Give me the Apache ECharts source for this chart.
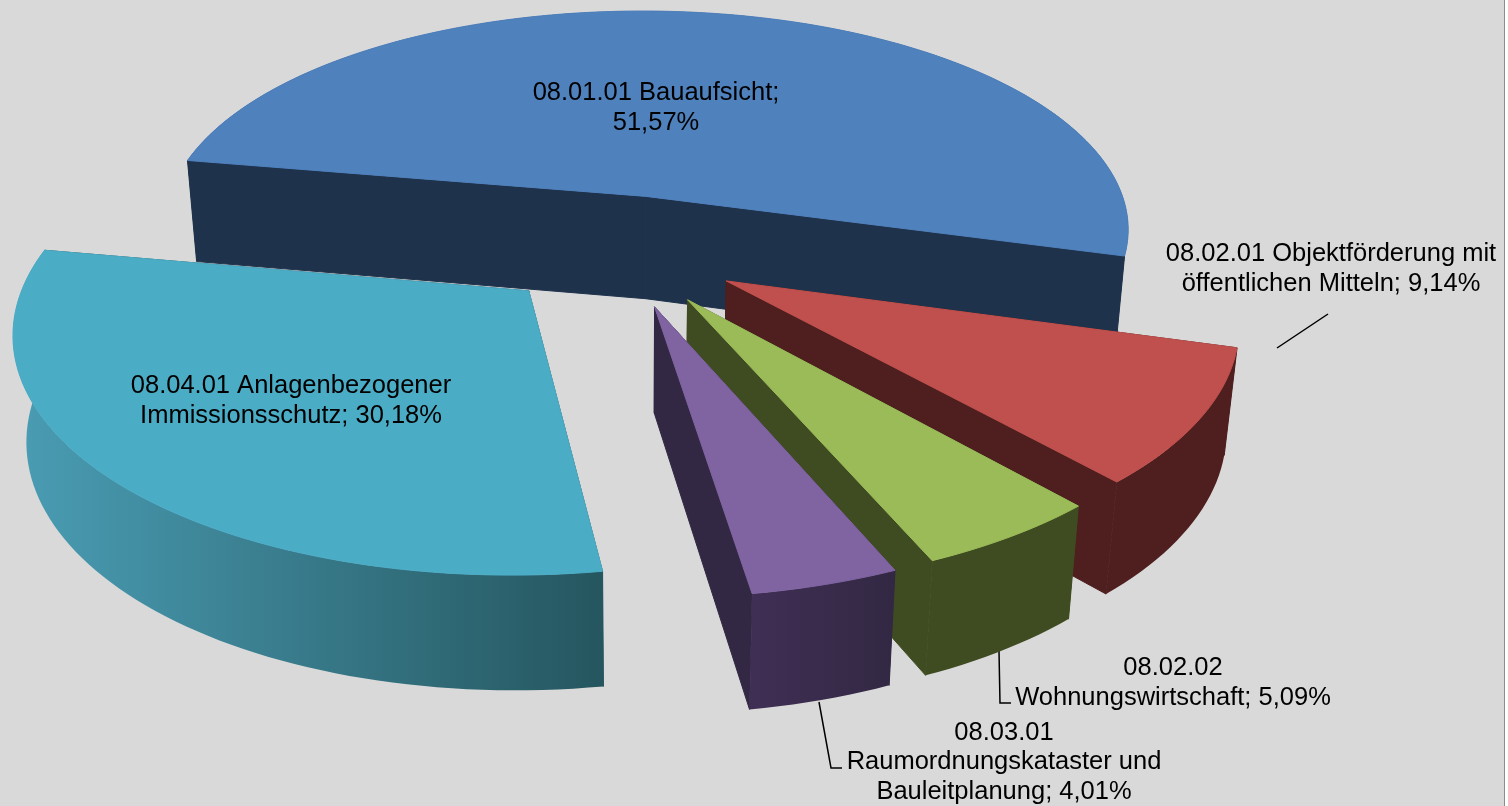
<!DOCTYPE html>
<html>
<head>
    <meta charset="utf-8">
    <title>Anteile</title>
    <style>
        html,body{margin:0;padding:0;background:#fff;}
        #chart{width:1504px;height:806px;border-right:1px solid #8c8c8c;}
    </style>
    <script src="https://cdn.jsdelivr.net/npm/echarts@6/dist/echarts.min.js"></script>
</head>
<body>
<div id="chart"></div>
<script>
    // Werte
    var sliceNames = [
        '08.01.01 Bauaufsicht',
        '08.02.01 Objektförderung mit\nöffentlichen Mitteln',
        '08.02.02\nWohnungswirtschaft',
        '08.03.01\nRaumordnungskataster und\nBauleitplanung',
        '08.04.01 Anlagenbezogener\nImmissionsschutz'
    ];
    var sliceShares = [51.57, 9.14, 5.09, 4.01, 30.18];
    var labelBreaks = ['\n', ' ', ' ', ' ', ' '];

    // Farben
    var topColors = ['#4f81bd', '#c0504d', '#9bbb59', '#8064a2', '#4bacc6'];
    var sideColors = [
        ['#1e324c', '#1e324c'],
        ['#4e1f1e', '#4e1f1e'],
        ['#3f4b20', '#3f4b20'],
        ['#402f55', '#322843'],
        ['#4a9db4', '#25565f']
    ];

    // Projektion der Kreisfläche (Perspektive)
    var view = {cx: 619.5, cy: 250, a: 494, b: 228, p: 0.15, explode: 0.25, startDeg: 280};
    var labelPos = [[656, 108], [1331, 269], [1173, 683], [1004, 762], [291, 401]];
    var totalShare = sliceShares.reduce(function (s, v) { return s + v; }, 0);

    function project(u, v) {
        var w = 1 - view.p * v;
        return [view.cx + view.a * u / w, view.cy + view.b * v / w];
    }
    // Unterkante: Tiefe wächst nach vorn, Kanten laufen nach unten zusammen
    function lower(pt) {
        var d = 101 + (pt[1] - 157) * 0.034;
        return [pt[0] + (640 - pt[0]) * d / 5000, pt[1] + d];
    }

    function renderSlice(params, api) {
        var i = params.dataIndex;
        var before = 0;
        for (var k = 0; k < i; k++) before += sliceShares[k];
        var a0 = view.startDeg + before / totalShare * 360;
        var sweep = api.value(0) / totalShare * 360;
        var mid = (a0 + sweep / 2) * Math.PI / 180;
        var ou = view.explode * Math.sin(mid), ov = -view.explode * Math.cos(mid);

        var rim = [];
        var steps = Math.ceil(sweep / 1.5);
        for (var s = 0; s <= steps; s++) {
            var t = (a0 + sweep * s / steps) * Math.PI / 180;
            rim.push(project(ou + Math.sin(t), ov - Math.cos(t)));
        }
        var apex = project(ou, ov);
        var rimLow = rim.map(lower).reverse();
        var dark = sideColors[i][1];
        var children = [
            {type: 'polygon', shape: {points: [apex, rim[0], lower(rim[0]), lower(apex)]}, style: {fill: dark, stroke: dark, lineWidth: 1}},
            {type: 'polygon', shape: {points: [apex, rim[steps], lower(rim[steps]), lower(apex)]}, style: {fill: dark, stroke: dark, lineWidth: 1}},
            {
                type: 'polygon', shape: {points: rim.concat(rimLow)},
                style: {fill: new echarts.graphic.LinearGradient(0, 0, 1, 0, [
                    {offset: 0, color: sideColors[i][0]},
                    {offset: 1, color: sideColors[i][1]}
                ])}
            },
            {type: 'polygon', shape: {points: [apex].concat(rim)}, style: {fill: topColors[i], stroke: topColors[i], lineWidth: 1}},
            {
                type: 'text',
                style: {
                    x: labelPos[i][0], y: labelPos[i][1],
                    text: sliceNames[i] + ';' + labelBreaks[i] + api.value(0).toFixed(2).replace('.', ',') + '%',
                    fill: '#000', align: 'center', verticalAlign: 'middle',
                    font: '25.5px "Liberation Sans", Arial, sans-serif', lineHeight: 29.5
                }
            }
        ];
        return {type: 'group', children: children};
    }

    var myChart = echarts.init(document.getElementById('chart'));
    myChart.setOption({
        backgroundColor: '#d9d9d9',
        animation: false,
        series: [{
            type: 'custom',
            coordinateSystem: 'none',
            renderItem: renderSlice,
            data: sliceShares.map(function (v) { return [v]; })
        }],
        graphic: [
            {type: 'polyline', shape: {points: [[1328, 314], [1277, 348]]}, style: {stroke: '#000', lineWidth: 1.5, fill: null}},
            {type: 'polyline', shape: {points: [[999, 651], [1000, 703], [1011, 703]]}, style: {stroke: '#000', lineWidth: 1.5, fill: null}},
            {type: 'polyline', shape: {points: [[819, 702], [831, 768], [842, 768]]}, style: {stroke: '#000', lineWidth: 1.5, fill: null}}
        ]
    });
</script>
</body>
</html>
